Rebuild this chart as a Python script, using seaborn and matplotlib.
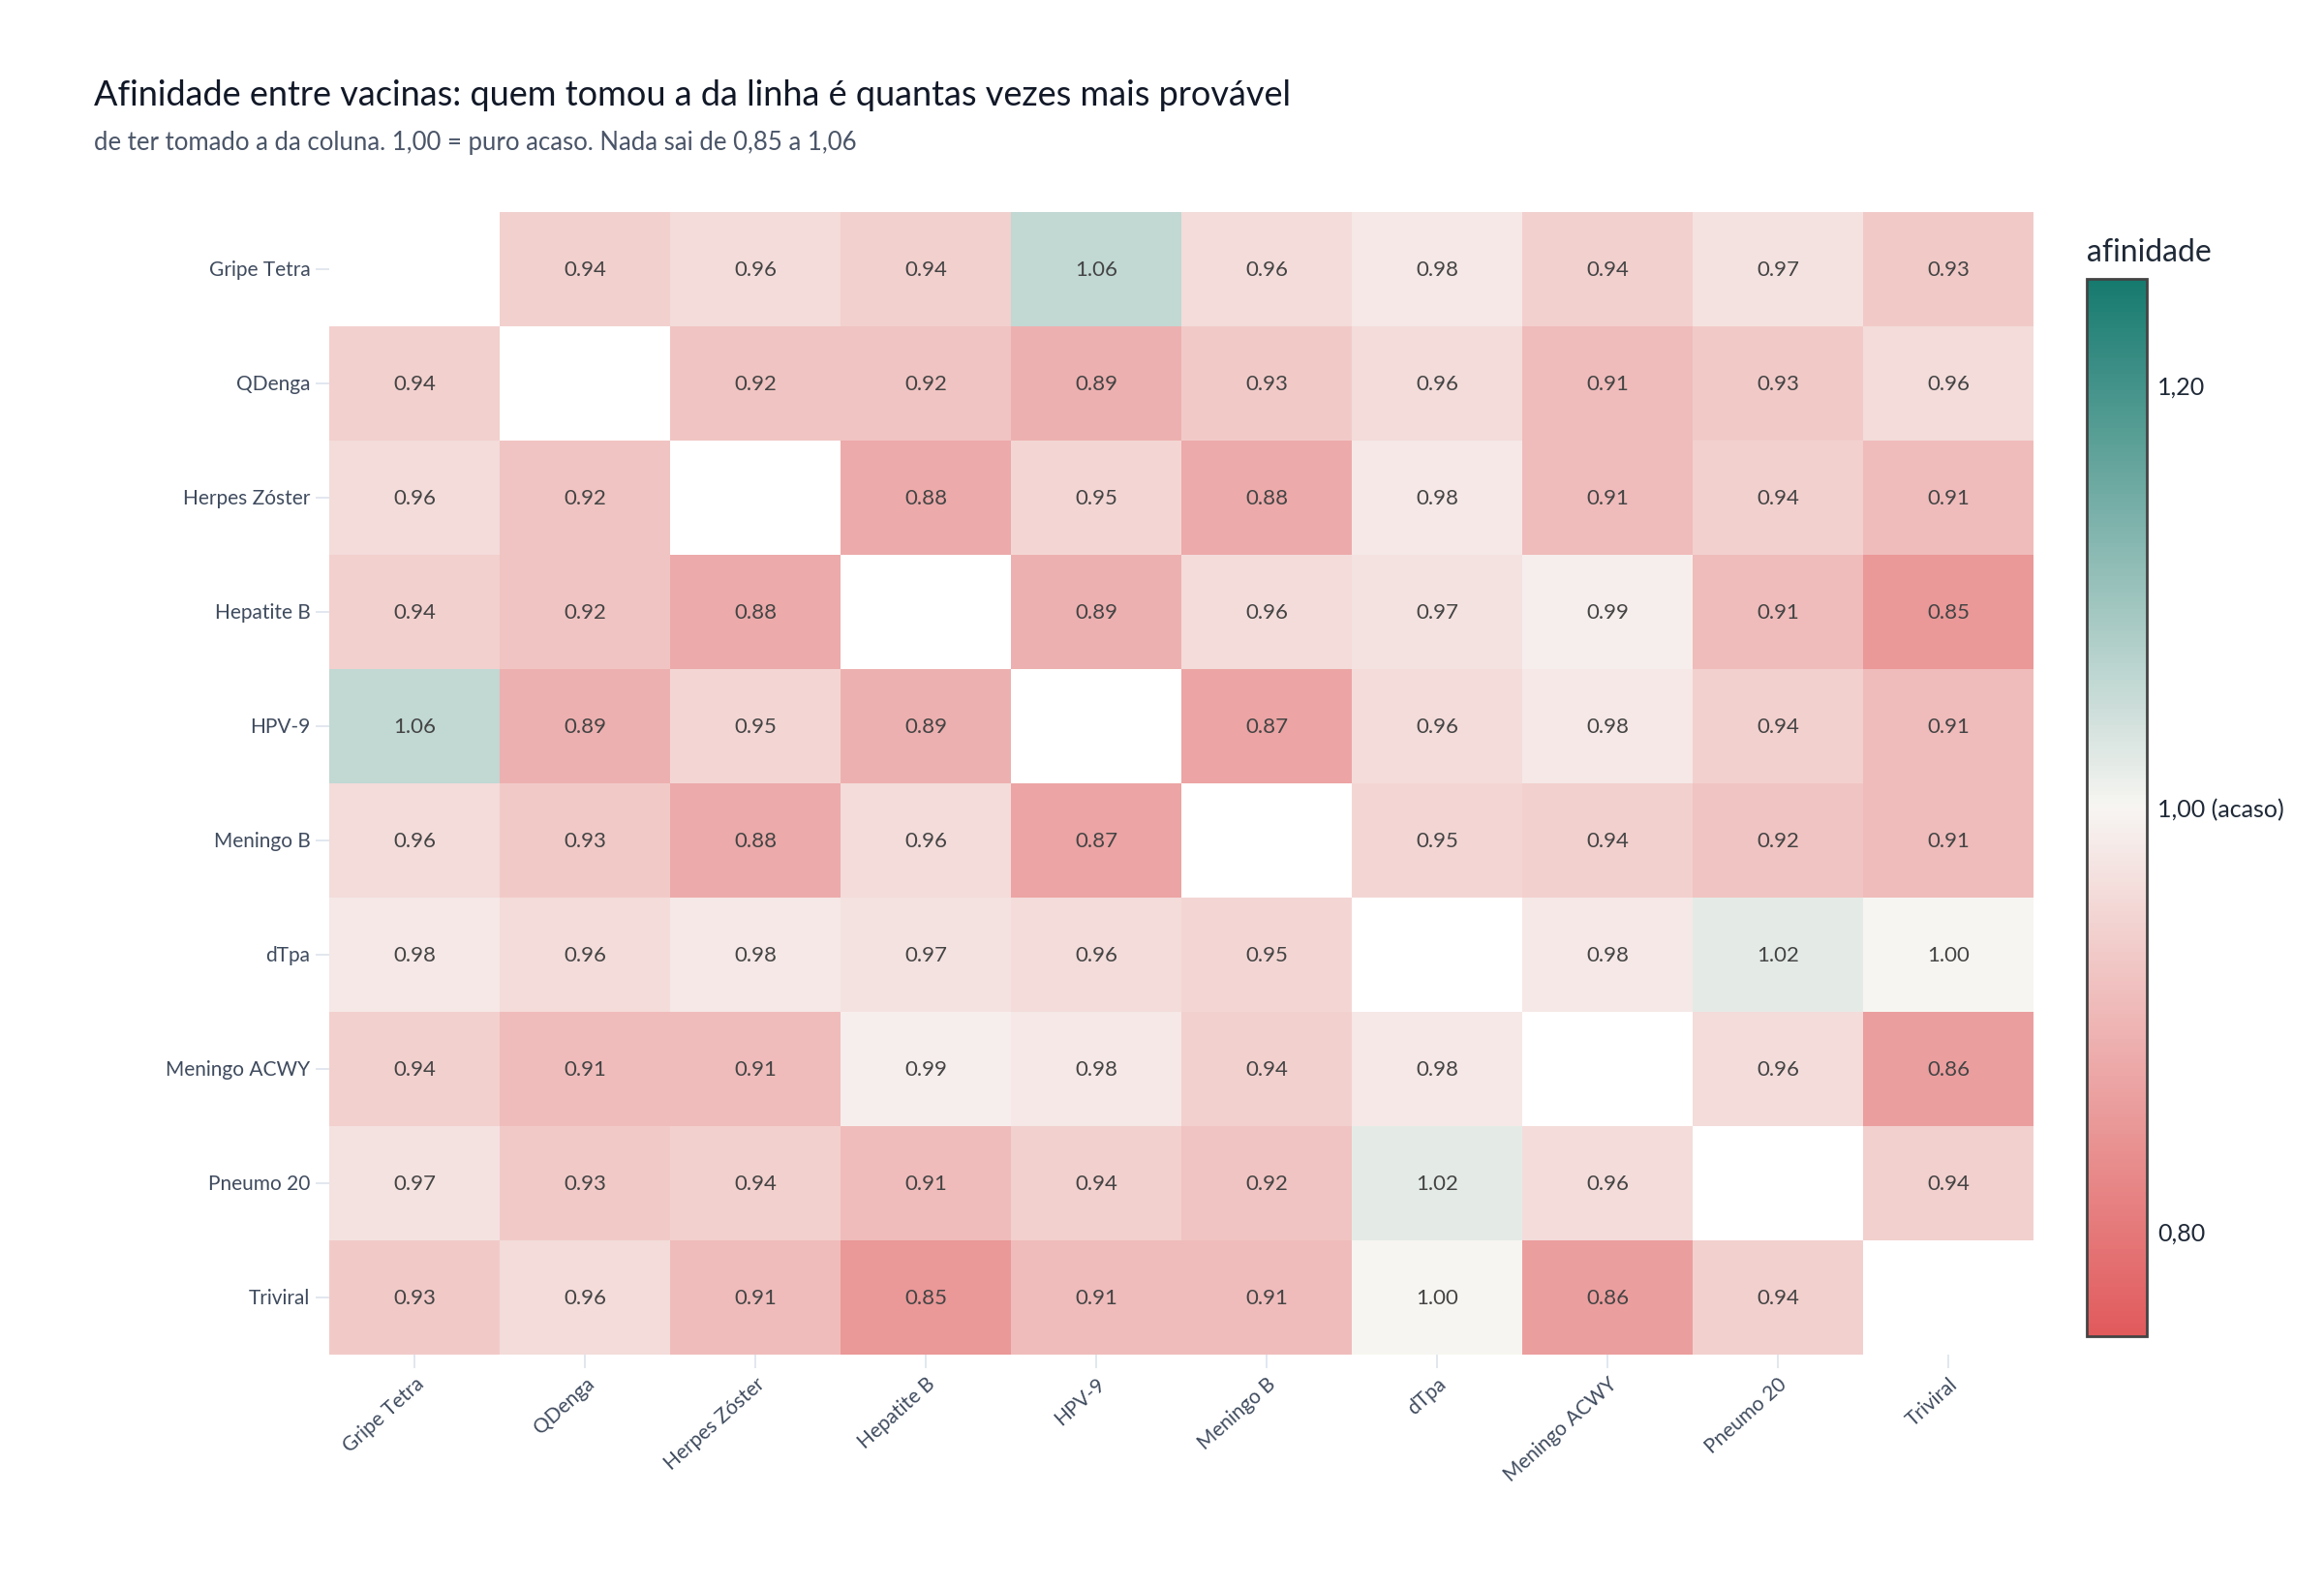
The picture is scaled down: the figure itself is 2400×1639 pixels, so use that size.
import numpy as np
import pandas as pd
import seaborn as sns
import matplotlib.pyplot as plt
from matplotlib.colors import LinearSegmentedColormap

vacinas = ['Gripe Tetra', 'QDenga', 'Herpes Zóster', 'Hepatite B', 'HPV-9',
           'Meningo B', 'dTpa', 'Meningo ACWY', 'Pneumo 20', 'Triviral']

gripe_tetra = [np.nan, 0.94, 0.96, 0.94, 1.06, 0.96, 0.98, 0.94, 0.97, 0.93]
qdenga = [0.94, np.nan, 0.92, 0.92, 0.89, 0.93, 0.96, 0.91, 0.93, 0.96]
herpes_zoster = [0.96, 0.92, np.nan, 0.88, 0.95, 0.88, 0.98, 0.91, 0.94, 0.91]
hepatite_b = [0.94, 0.92, 0.88, np.nan, 0.89, 0.96, 0.97, 0.99, 0.91, 0.85]
hpv9 = [1.06, 0.89, 0.95, 0.89, np.nan, 0.87, 0.96, 0.98, 0.94, 0.91]
meningo_b = [0.96, 0.93, 0.88, 0.96, 0.87, np.nan, 0.95, 0.94, 0.92, 0.91]
dtpa = [0.98, 0.96, 0.98, 0.97, 0.96, 0.95, np.nan, 0.98, 1.02, 1.00]
meningo_acwy = [0.94, 0.91, 0.91, 0.99, 0.98, 0.94, 0.98, np.nan, 0.96, 0.86]
pneumo20 = [0.97, 0.93, 0.94, 0.91, 0.94, 0.92, 1.02, 0.96, np.nan, 0.94]
triviral = [0.93, 0.96, 0.91, 0.85, 0.91, 0.91, 1.00, 0.86, 0.94, np.nan]

cbar_ticks = [0.8, 1.0, 1.2]
cbar_labels = ['0,80', '1,00 (acaso)', '1,20']

df = pd.DataFrame([gripe_tetra, qdenga, herpes_zoster, hepatite_b, hpv9,
                   meningo_b, dtpa, meningo_acwy, pneumo20, triviral],
                  index=vacinas, columns=vacinas)

sns.set_theme(style='white')
plt.rcParams['font.family'] = ['Lato', 'DejaVu Sans']

cmap = LinearSegmentedColormap.from_list('afin', ['#e15a5c', '#f7f5f2', '#167a6f'])

fig = plt.figure(figsize=(24, 16.4), dpi=100)
ax = fig.add_axes([0.14167, 0.14634, 0.73333, 0.71951])
cax = fig.add_axes([0.8979, 0.1579, 0.0258, 0.6659])

sns.heatmap(df, ax=ax, cbar_ax=cax, cmap=cmap, vmin=0.75, vmax=1.25,
            annot=True, fmt='.2f', annot_kws={'fontsize': 16, 'color': '#444444'},
            mask=df.isna(), linewidths=0)

ax.tick_params(axis='both', which='both', length=10, width=1.2, color='#dde3ec',
               labelsize=15, labelcolor='#3f4b5e', pad=4, bottom=True, left=True)
ax.set_xticklabels(vacinas, rotation=42, ha='right', rotation_mode='anchor')
ax.set_yticklabels(vacinas, rotation=0)
ax.set_xlabel('')
ax.set_ylabel('')

cb = ax.collections[0].colorbar
cb.set_ticks(cbar_ticks)
cb.set_ticklabels(cbar_labels)
cb.ax.tick_params(length=0, labelsize=18, labelcolor='#1f2937', pad=8)
cb.outline.set_visible(True)
cb.outline.set_edgecolor('#444444')
cb.outline.set_linewidth(2)
cax.text(0, 1.012, 'afinidade', transform=cax.transAxes, fontsize=23,
         color='#1f2937', ha='left', va='bottom')

fig.text(0.0404, 0.940, 'Afinidade entre vacinas: quem tomou a da linha é quantas vezes mais provável',
         fontsize=26, color='#111827', ha='left', va='center')
fig.text(0.0404, 0.910, 'de ter tomado a da coluna. 1,00 = puro acaso. Nada sai de 0,85 a 1,06',
         fontsize=18.5, color='#4a5568', ha='left', va='center')

fig.savefig('out.png', dpi=100, facecolor='white')
